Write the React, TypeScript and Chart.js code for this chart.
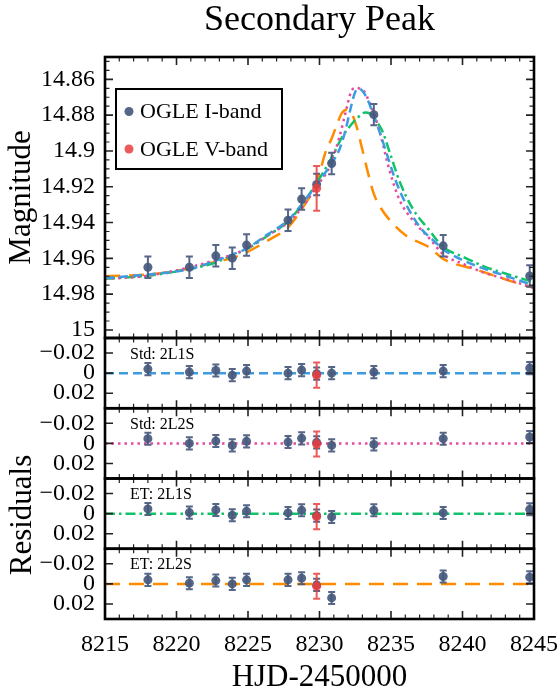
import React, { useEffect, useRef } from "react";
import { Chart, registerables } from "chart.js";
Chart.register(...registerables);

// ---------- data ----------
const xTicks = [8215, 8220, 8225, 8230, 8235, 8240, 8245];
const magTicks = [14.86, 14.88, 14.9, 14.92, 14.94, 14.96, 14.98, 15.0];
const resTicks = [-0.02, 0, 0.02];

const iDays = [8218.0, 8220.9, 8222.75, 8223.9, 8224.9, 8227.8, 8228.75, 8229.8, 8230.85, 8233.8, 8238.65, 8244.7];
const iMag = [14.965, 14.965, 14.9586, 14.9599, 14.9526, 14.9387, 14.9269, 14.9187, 14.907, 14.8797, 14.953, 14.9698];
const iErr = [0.006, 0.006, 0.006, 0.006, 0.006, 0.006, 0.006, 0.006, 0.006, 0.006, 0.006, 0.006];
const vDays = [8229.8];
const vMag = [14.9209];
const vErr = [0.0125];

const resStd2L1S = [-0.004, -0.001, -0.0027, 0.002, -0.002, 0.0, -0.003, 0.0005, 0.0, -0.001, -0.002, -0.005];
const resStd2L2S = [-0.0047, 0.0, -0.0023, 0.002, -0.002, -0.0013, -0.005, -0.001, 0.002, 0.001, -0.0047, -0.0063];
const resET2L1S = [-0.0047, -0.001, -0.0037, 0.0017, -0.0023, -0.0007, -0.0033, 0.002, 0.0033, -0.0033, -0.0007, -0.0043];
const resET2L2S = [-0.004, -0.0007, -0.0033, 0.0, -0.004, -0.004, -0.0057, 0.001, 0.014, -0.044, -0.0073, -0.0067];
const resVStd2L1S = [0.002];
const resVStd2L2S = [0.0007];
const resVET2L1S = [0.003];
const resVET2L2S = [0.0023];

const std1Days = [8215, 8218, 8220.9, 8222.75, 8223.9, 8224.9, 8226.3, 8227.8, 8228.75, 8229.8, 8230.5, 8230.85, 8231.4, 8231.8, 8232.2, 8232.45, 8232.7, 8233.0, 8233.4, 8233.8, 8234.1, 8234.6, 8235.3, 8236.0, 8237.0, 8238.1, 8238.65, 8239.5, 8241.4, 8243.0, 8245];
const std1Mag = [14.971, 14.969, 14.966, 14.9613, 14.9579, 14.9546, 14.947, 14.9387, 14.9299, 14.9187, 14.911, 14.907, 14.899, 14.889, 14.8754, 14.868, 14.8652, 14.8665, 14.872, 14.8807, 14.887, 14.899, 14.916, 14.929, 14.9423, 14.951, 14.955, 14.959, 14.9655, 14.9697, 14.9752];

const std2Days = [8215, 8218, 8220.9, 8222.75, 8223.9, 8224.9, 8226.3, 8227.8, 8228.75, 8229.8, 8230.7, 8231.4, 8231.87, 8232.2, 8232.55, 8232.9, 8233.15, 8233.45, 8233.8, 8234.3, 8234.9, 8235.6, 8236.5, 8237.7, 8238.65, 8240, 8241.5, 8243, 8245];
const std2Mag = [14.9715, 14.9697, 14.965, 14.9609, 14.9579, 14.9546, 14.9475, 14.94, 14.9319, 14.9197, 14.909, 14.892, 14.877, 14.867, 14.8648, 14.8655, 14.867, 14.872, 14.8787, 14.892, 14.911, 14.9274, 14.9385, 14.949, 14.9577, 14.963, 14.968, 14.9715, 14.9765];

const et1Days = [8215, 8218, 8220.9, 8222.75, 8223.9, 8224.9, 8226.5, 8227.8, 8228.75, 8229.8, 8230.85, 8231.6, 8232.2, 8232.6, 8233.2, 8233.5, 8233.8, 8234.4, 8234.9, 8235.6, 8236.5, 8237.7, 8238.65, 8240, 8241.5, 8243, 8245];
const et1Mag = [14.9714, 14.9697, 14.966, 14.9623, 14.9582, 14.9549, 14.9467, 14.9394, 14.9302, 14.918, 14.9037, 14.892, 14.8855, 14.882, 14.8785, 14.879, 14.8815, 14.889, 14.9005, 14.917, 14.932, 14.9445, 14.9537, 14.959, 14.9645, 14.9685, 14.9733];

const et2Days = [8215, 8218, 8220.9, 8222.75, 8223.9, 8224.9, 8226.5, 8227.8, 8228.75, 8229.8, 8230.45, 8230.85, 8231.2, 8231.55, 8231.9, 8232.25, 8232.6, 8232.95, 8233.4, 8233.8, 8234.3, 8234.9, 8236.0, 8237.7, 8238.65, 8241, 8243.8, 8245];
const et2Mag = [14.97, 14.969, 14.9657, 14.9619, 14.9599, 14.9566, 14.9495, 14.9427, 14.9326, 14.9177, 14.9, 14.893, 14.8856, 14.879, 14.877, 14.879, 14.8866, 14.8977, 14.9125, 14.924, 14.932, 14.9385, 14.947, 14.954, 14.9603, 14.9664, 14.9738, 14.9765];

const panelLabels = ["Std: 2L1S", "Std: 2L2S", "ET: 2L1S", "ET: 2L2S"];
const legendLabels = ["OGLE I-band", "OGLE V-band"];

// ---------- styles ----------
const FONT = "'Liberation Serif', 'Times New Roman', serif";
const C_I = "rgba(70,89,125,0.92)";
const C_V = "rgba(232,62,62,0.85)";
const C_BLUE = "#3d9be0";
const C_PINK = "#e84a9e";
const C_GREEN = "#12c26a";
const C_ORANGE = "#ff8c00";
const LW = 2.5;
const DASH_BLUE = [9, 5];
const DASH_PINK = [2.5, 4];
const DASH_GREEN = [10, 4, 2.5, 4];
const DASH_ORANGE = [15, 9];

const resAxes = ["r1", "r2", "r3", "r4"];
const resSets = [resStd2L1S, resStd2L2S, resET2L1S, resET2L2S];
const resVSets = [resVStd2L1S, resVStd2L2S, resVET2L1S, resVET2L2S];
const modelColors = [C_BLUE, C_PINK, C_GREEN, C_ORANGE];
const modelDashes = [DASH_BLUE, DASH_PINK, DASH_GREEN, DASH_ORANGE];
const modelDays = [std1Days, std2Days, et1Days, et2Days];
const modelMags = [std1Mag, std2Mag, et1Mag, et2Mag];

const pts = (xs: number[], ys: number[]) => xs.map((x, i) => ({ x, y: ys[i] }));

const customPlugin = {
  id: "custom",
  beforeDatasetDraw(chart: any, args: any) {
    const ds = chart.data.datasets[args.index];
    if (!ds.errs) return;
    const ctx = chart.ctx;
    const xs = chart.scales.x;
    const ys = chart.scales[ds.yAxisID];
    ctx.save();
    ctx.beginPath();
    ctx.rect(chart.chartArea.left, ys.top, chart.chartArea.right - chart.chartArea.left, ys.bottom - ys.top);
    ctx.clip();
    ctx.strokeStyle = ds.errColor;
    ctx.lineWidth = 2;
    ds.data.forEach((p: any, i: number) => {
      const px = xs.getPixelForValue(p.x);
      const y1 = ys.getPixelForValue(p.y - ds.errs[i]);
      const y2 = ys.getPixelForValue(p.y + ds.errs[i]);
      ctx.beginPath();
      ctx.moveTo(px, y1); ctx.lineTo(px, y2);
      ctx.moveTo(px - 3.5, y1); ctx.lineTo(px + 3.5, y1);
      ctx.moveTo(px - 3.5, y2); ctx.lineTo(px + 3.5, y2);
      ctx.stroke();
    });
    ctx.restore();
  },
  afterDraw(chart: any) {
    const ctx = chart.ctx;
    const area = chart.chartArea;
    const xs = chart.scales.x;
    const L = area.left, R = area.right;
    ctx.save();
    const panels = ["y0", ...resAxes];
    panels.forEach((id) => {
      const s = chart.scales[id];
      const T = s.top, B = s.bottom;
      ctx.strokeStyle = "#222";
      for (let d = 8215; d <= 8245; d++) {
        const major = d % 5 === 0;
        const len = major ? 8 : 4.5;
        ctx.lineWidth = major ? 1.6 : 1.2;
        const px = xs.getPixelForValue(d);
        ctx.beginPath();
        ctx.moveTo(px, T); ctx.lineTo(px, T + len);
        ctx.moveTo(px, B); ctx.lineTo(px, B - len);
        ctx.stroke();
      }
      if (id === "y0") {
        for (let k = 0; k <= 32; k++) {
          const v = 14.845 + k * 0.005;
          if (v < s.min - 1e-9 || v > s.max + 1e-9) continue;
          const major = Math.abs((v - 14.86) / 0.02 - Math.round((v - 14.86) / 0.02)) < 1e-6;
          const len = major ? 8 : 4.5;
          ctx.lineWidth = major ? 1.6 : 1.2;
          const py = s.getPixelForValue(v);
          ctx.beginPath();
          ctx.moveTo(L, py); ctx.lineTo(L + len, py);
          ctx.moveTo(R, py); ctx.lineTo(R - len, py);
          ctx.stroke();
        }
      } else {
        resTicks.forEach((v) => {
          ctx.lineWidth = 1.6;
          const py = s.getPixelForValue(v);
          ctx.beginPath();
          ctx.moveTo(L, py); ctx.lineTo(L + 8, py);
          ctx.moveTo(R, py); ctx.lineTo(R - 8, py);
          ctx.stroke();
        });
      }
      ctx.strokeStyle = "#000";
      ctx.lineWidth = 2.6;
      ctx.strokeRect(L, T, R - L, B - T);
    });
    ctx.fillStyle = "#000";
    ctx.font = `16px ${FONT}`;
    ctx.textAlign = "left";
    ctx.textBaseline = "alphabetic";
    resAxes.forEach((id, i) => {
      const s = chart.scales[id];
      ctx.fillText(panelLabels[i], L + 25, s.top + 20.5);
    });
    const lx = L + 11, ly = chart.scales.y0.top + 32, lw = 166, lh = 80;
    ctx.fillStyle = "#fff";
    ctx.fillRect(lx, ly, lw, lh);
    ctx.strokeStyle = "#000";
    ctx.lineWidth = 2;
    ctx.strokeRect(lx, ly, lw, lh);
    ctx.font = `22px ${FONT}`;
    ctx.textBaseline = "middle";
    [C_I, C_V].forEach((c, i) => {
      const cy = ly + 22.5 + i * 37.5;
      ctx.fillStyle = c;
      ctx.beginPath();
      ctx.arc(lx + 13, cy, 4.5, 0, Math.PI * 2);
      ctx.fill();
      ctx.fillStyle = "#000";
      ctx.fillText(legendLabels[i], lx + 24, cy + 1);
    });
    ctx.textAlign = "center";
    ctx.textBaseline = "alphabetic";
    ctx.font = `36px ${FONT}`;
    ctx.fillText("Secondary Peak", (L + R) / 2, 30);
    ctx.font = `31px ${FONT}`;
    ctx.fillText("HJD-2450000", (L + R) / 2, 686);
    const drawV = (t: string, x: number, y: number) => {
      ctx.save();
      ctx.translate(x, y);
      ctx.rotate(-Math.PI / 2);
      ctx.fillText(t, 0, 0);
      ctx.restore();
    };
    const y0 = chart.scales.y0;
    drawV("Magnitude", 30, (y0.top + y0.bottom) / 2);
    drawV("Residuals", 31, 515);
    ctx.restore();
  },
};

export default function App() {
  const ref = useRef<HTMLCanvasElement>(null);
  useEffect(() => {
    document.body.style.margin = "0";
    const canvas = ref.current!;
    const datasets: any[] = [];
    datasets.push({
      label: "OGLE V-band", data: pts(vDays, vMag), yAxisID: "y0", showLine: false,
      pointRadius: 4.5, pointBackgroundColor: C_V, pointBorderWidth: 0, order: 1,
      errs: vErr, errColor: C_V,
    });
    datasets.push({
      label: "OGLE I-band", data: pts(iDays, iMag), yAxisID: "y0", showLine: false,
      pointRadius: 4.5, pointBackgroundColor: C_I, pointBorderWidth: 0, order: 2,
      errs: iErr, errColor: C_I,
    });
    for (let k = 0; k < 4; k++) {
      datasets.push({
        label: panelLabels[k], data: pts(modelDays[k], modelMags[k]), yAxisID: "y0",
        borderColor: modelColors[k], borderWidth: LW, borderDash: modelDashes[k],
        pointRadius: 0, fill: false, cubicInterpolationMode: "monotone", order: 10 + k,
      });
    }
    resAxes.forEach((id, k) => {
      datasets.push({
        label: "V " + id, data: pts(vDays, resVSets[k]), yAxisID: id, showLine: false,
        pointRadius: 4.5, pointBackgroundColor: C_V, pointBorderWidth: 0, order: 1,
        errs: vErr, errColor: C_V,
      });
      datasets.push({
        label: "I " + id, data: pts(iDays, resSets[k]), yAxisID: id, showLine: false,
        pointRadius: 4.5, pointBackgroundColor: C_I, pointBorderWidth: 0, order: 2,
        errs: iErr, errColor: C_I,
      });
      datasets.push({
        label: "zero " + id, data: [{ x: xTicks[0], y: 0 }, { x: xTicks[xTicks.length - 1], y: 0 }], yAxisID: id,
        borderColor: modelColors[k], borderWidth: LW, borderDash: modelDashes[k],
        pointRadius: 0, fill: false, order: 10,
      });
    });

    const tickFont = { family: FONT, size: 24 };
    const resScale = () => ({
      type: "linear", position: "left", stack: "panels", stackWeight: 1, clip: true,
      reverse: true, min: -0.035, max: 0.035,
      grid: { display: false, drawTicks: false }, border: { display: false },
      afterBuildTicks: (s: any) => { s.ticks = resTicks.map((v) => ({ value: v })); },
      afterFit: (s: any) => { s.width = 105; s.paddingTop = 0; s.paddingBottom = 0; },
      ticks: {
        font: tickFont, color: "#000", padding: 10, autoSkip: false,
        callback: (v: number) => (Math.abs(v) < 1e-9 ? "0" : v < 0 ? "\u2212" + Math.abs(v).toString() : v.toString()),
      },
    });

    const chart = new Chart(canvas, {
      type: "line",
      data: { datasets },
      plugins: [customPlugin],
      options: {
        animation: false,
        responsive: false,
        events: [],
        layout: { padding: { left: 0, right: 26, top: 57, bottom: 0 } },
        plugins: { legend: { display: false }, tooltip: { enabled: false }, title: { display: false } },
        scales: {
          x: {
            type: "linear", position: "bottom", min: 8215, max: 8245,
            grid: { display: false, drawTicks: false }, border: { display: false },
            afterBuildTicks: (s: any) => { s.ticks = xTicks.map((v) => ({ value: v })); },
            afterFit: (s: any) => { s.height = 77; s.paddingLeft = 0; s.paddingRight = 0; },
            ticks: { font: tickFont, color: "#000", padding: 11, maxRotation: 0, autoSkip: false, callback: (v: number) => String(v) },
          },
          r4: resScale(),
          r3: resScale(),
          r2: resScale(),
          r1: resScale(),
          y0: {
            type: "linear", position: "left", stack: "panels", stackWeight: 4, clip: true,
            reverse: true, min: 14.8475, max: 15.0045,
            grid: { display: false, drawTicks: false }, border: { display: false },
            afterBuildTicks: (s: any) => { s.ticks = magTicks.map((v) => ({ value: v })); },
            afterFit: (s: any) => { s.width = 105; s.paddingTop = 0; s.paddingBottom = 0; },
            ticks: { font: tickFont, color: "#000", padding: 10, autoSkip: false, callback: (v: number) => String(parseFloat(v.toFixed(2))) },
          },
        } as any,
      },
    } as any);
    return () => chart.destroy();
  }, []);
  return (
    <div style={{ width: 560, height: 696 }}>
      <canvas ref={ref} width={560} height={696} style={{ display: "block" }} />
    </div>
  );
}
